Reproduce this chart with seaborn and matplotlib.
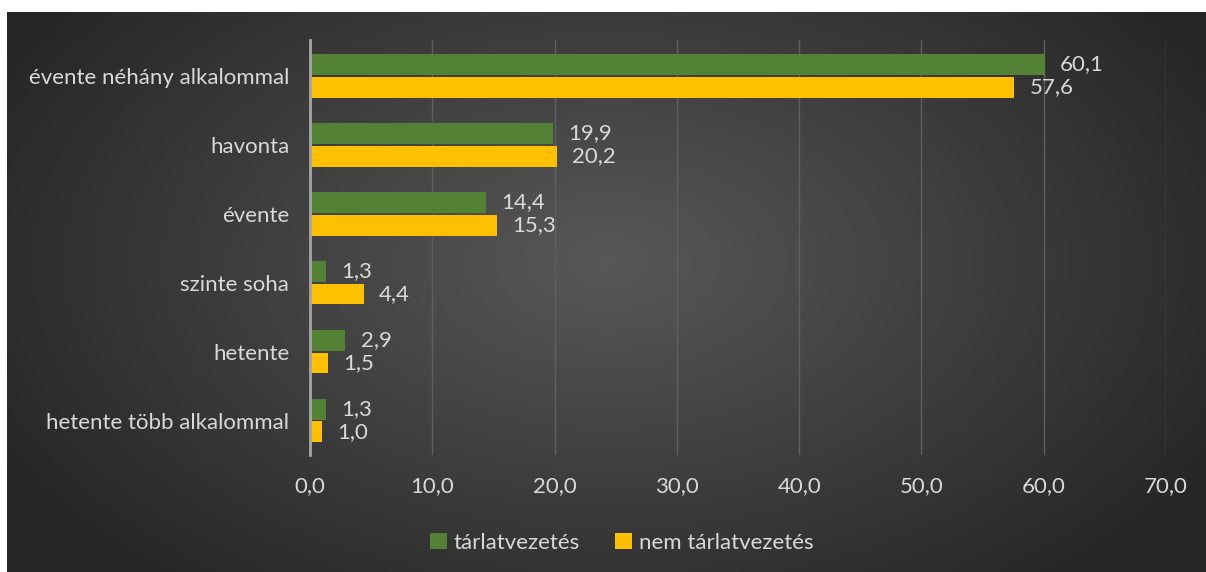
import numpy as np
import pandas as pd
import matplotlib
matplotlib.use("Agg")
import matplotlib.pyplot as plt
import seaborn as sns

categories = ["évente néhány alkalommal", "havonta", "évente", "szinte soha",
              "hetente", "hetente több alkalommal"]
series_names = ["tárlatvezetés", "nem tárlatvezetés"]
tarlat = [60.1, 19.9, 14.4, 1.3, 2.9, 1.3]
nem_tarlat = [57.6, 20.2, 15.3, 4.4, 1.5, 1.0]
x_ticks = [0, 10, 20, 30, 40, 50, 60, 70]

df = pd.DataFrame({
    "cat": categories * 2,
    "series": [series_names[0]] * len(categories) + [series_names[1]] * len(categories),
    "val": tarlat + nem_tarlat,
})

sns.set_theme(style="white")
plt.rcParams["font.family"] = ["Lato", "DejaVu Sans"]

W, H = 1206, 572
fig = plt.figure(figsize=(W / 100, H / 100), dpi=100)
fig.patch.set_facecolor("white")

# dark radial gradient panel
bg = fig.add_axes([7 / W, 0, 1 - 7 / W, 1 - 12 / H])
bg.set_axis_off()
yy, xx = np.mgrid[0:560, 0:1199]
cx, cy = 600, 250
r = np.sqrt(((xx - cx) / 700.0) ** 2 + ((yy - cy) / 420.0) ** 2)
r = np.clip(r, 0, 1)
inner = np.array([0x58, 0x58, 0x58]) / 255.0
outer = np.array([0x26, 0x26, 0x26]) / 255.0
img = inner[None, None, :] * (1 - r[..., None]) + outer[None, None, :] * r[..., None]
bg.imshow(img, aspect="auto", extent=[0, 1, 0, 1], origin="upper")
bg.set_xlim(0, 1)
bg.set_ylim(0, 1)

ax = fig.add_axes([310 / W, 1 - 455 / H, (1166 - 310) / W, (455 - 40) / H])
ax.set_facecolor("none")

sns.barplot(data=df, y="cat", x="val", hue="series", orient="h", ax=ax,
            palette=["#548235", "#FFC000"], width=0.66, legend=True,
            saturation=1, edgecolor="none")

# shrink bars slightly to leave a gap
for p in ax.patches:
    h = p.get_height()
    if h > 0 and h < 1:
        c = p.get_y() + h / 2
        nh = h * 0.92
        p.set_y(c - nh / 2)
        p.set_height(nh)

ax.set_xlim(0, 70)
ax.set_ylim(5.5, -0.52)
ax.set_xticks(x_ticks)
ax.set_xticklabels([f"{t:.1f}".replace(".", ",") for t in x_ticks])
ax.set_xlabel("")
ax.set_ylabel("")
ax.grid(axis="x", color="#5f5f5f", linewidth=1)
ax.grid(axis="y", visible=False)
ax.set_axisbelow(True)
for s in ["top", "right", "bottom"]:
    ax.spines[s].set_visible(False)
ax.spines["left"].set_color("#a6a6a6")
ax.spines["left"].set_linewidth(2)
ax.spines["left"].set_zorder(5)
ax.tick_params(axis="x", colors="#d9d9d9", labelsize=16, length=0, pad=15)
ax.tick_params(axis="y", colors="#d9d9d9", labelsize=16, length=0, pad=15)

for cont in ax.containers:
    ax.bar_label(cont, labels=[f"{v:.1f}".replace(".", ",") for v in cont.datavalues],
                 padding=11, color="#d9d9d9", fontsize=16)

leg = ax.legend(loc="upper center", bbox_to_anchor=(0.364, -0.14), ncol=2, frameon=False,
                fontsize=16, handlelength=0.75, handleheight=0.75, columnspacing=1.6,
                handletextpad=0.3)
for t in leg.get_texts():
    t.set_color("#d9d9d9")

fig.savefig("out.png", dpi=100, facecolor=fig.get_facecolor())
